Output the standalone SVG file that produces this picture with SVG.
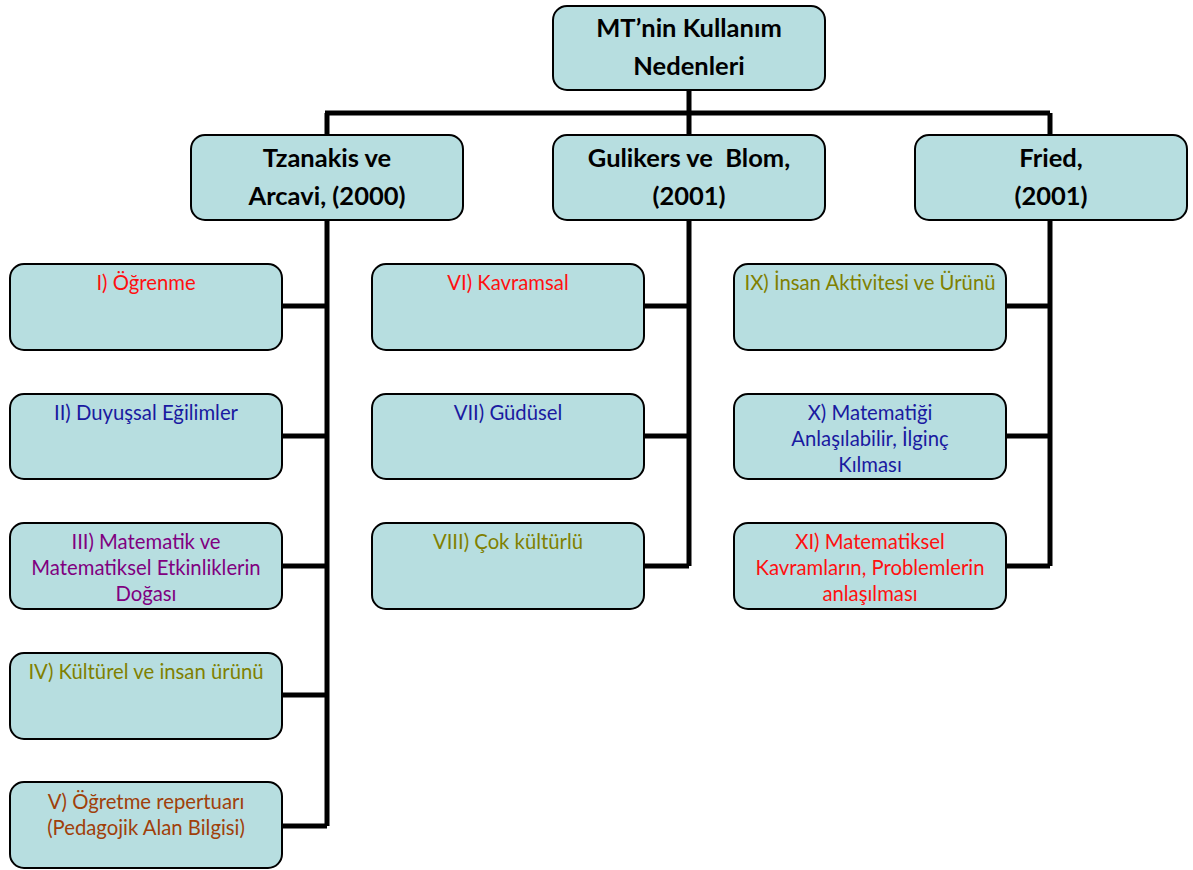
<svg xmlns="http://www.w3.org/2000/svg" width="1193" height="870" viewBox="0 0 1193 870">
<style>
.box{fill:#B7DEE0;stroke:#000;stroke-width:2}
.hd{font-family:Lato,"Open Sans",sans-serif;font-weight:bold;font-size:25.5px;fill:#000;text-anchor:middle;white-space:pre}
.lf{font-family:Lato,"Open Sans",sans-serif;font-size:20.3px;text-anchor:middle}
.red{fill:#FF1010}.blue{fill:#1A1AA0}.pur{fill:#800080}.olv{fill:#808000}.brn{fill:#A0400A}
.ln{stroke:#000;stroke-width:5;fill:none}
</style>
<rect width="1193" height="870" fill="#fff"/>
<g id="connectors">
<path class="ln" d="M689 90V135M325 113H1050M327 113V135M1050 113V135"/>
<path class="ln" d="M327 220V826M282 306H327M282 436H327M282 566H327M282 695H327M282 826H327"/>
<path class="ln" d="M689 220V566M644 306H689M644 436H689M644 566H689"/>
<path class="ln" d="M1050 220V566M1006 306H1050M1006 436H1050M1006 566H1050"/>
</g>
<g id="root"><rect class="box" x="553" y="6" width="272" height="84" rx="14"/><text class="hd" x="689" y="37">MT’nin Kullanım</text><text class="hd" x="689" y="75">Nedenleri</text></g>
<g id="tzanakis"><rect class="box" x="191" y="135" width="272" height="85" rx="14"/><text class="hd" x="327" y="167">Tzanakis ve</text><text class="hd" x="327" y="205">Arcavi, (2000)</text></g>
<g id="gulikers"><rect class="box" x="553" y="135" width="272" height="85" rx="14"/><text class="hd" x="689" y="167" xml:space="preserve">Gulikers ve  Blom,</text><text class="hd" x="689" y="205">(2001)</text></g>
<g id="fried"><rect class="box" x="915" y="135" width="272" height="85" rx="14"/><text class="hd" x="1051" y="167">Fried,</text><text class="hd" x="1051" y="205">(2001)</text></g>
<g id="n1"><rect class="box" x="10" y="264" width="272" height="86" rx="14"/><text class="lf red" x="146" y="290">I) Öğrenme</text></g>
<g id="n2"><rect class="box" x="10" y="394" width="272" height="85" rx="14"/><text class="lf blue" x="146" y="420">II) Duyuşsal Eğilimler</text></g>
<g id="n3"><rect class="box" x="10" y="523" width="272" height="86" rx="14"/><text class="lf pur" x="146" y="549">III) Matematik ve</text><text class="lf pur" x="146" y="575">Matematiksel Etkinliklerin</text><text class="lf pur" x="146" y="601">Doğası</text></g>
<g id="n4"><rect class="box" x="10" y="653" width="272" height="86" rx="14"/><text class="lf olv" x="146" y="679">IV) Kültürel ve insan ürünü</text></g>
<g id="n5"><rect class="box" x="10" y="782" width="272" height="86" rx="14"/><text class="lf brn" x="146" y="809">V) Öğretme repertuarı</text><text class="lf brn" x="146" y="835">(Pedagojik Alan Bilgisi)</text></g>
<g id="n6"><rect class="box" x="372" y="264" width="272" height="86" rx="14"/><text class="lf red" x="508" y="290">VI) Kavramsal</text></g>
<g id="n7"><rect class="box" x="372" y="394" width="272" height="85" rx="14"/><text class="lf blue" x="508" y="420">VII) Güdüsel</text></g>
<g id="n8"><rect class="box" x="372" y="523" width="272" height="86" rx="14"/><text class="lf olv" x="508" y="549">VIII) Çok kültürlü</text></g>
<g id="n9"><rect class="box" x="734" y="264" width="272" height="86" rx="14"/><text class="lf olv" x="870" y="290">IX) İnsan Aktivitesi ve Ürünü</text></g>
<g id="n10"><rect class="box" x="734" y="394" width="272" height="85" rx="14"/><text class="lf blue" x="870" y="420">X) Matematiği</text><text class="lf blue" x="870" y="446">Anlaşılabilir, İlginç</text><text class="lf blue" x="870" y="472">Kılması</text></g>
<g id="n11"><rect class="box" x="734" y="523" width="272" height="86" rx="14"/><text class="lf red" x="870" y="549">XI) Matematiksel</text><text class="lf red" x="870" y="575">Kavramların, Problemlerin</text><text class="lf red" x="870" y="601">anlaşılması</text></g>
</svg>
